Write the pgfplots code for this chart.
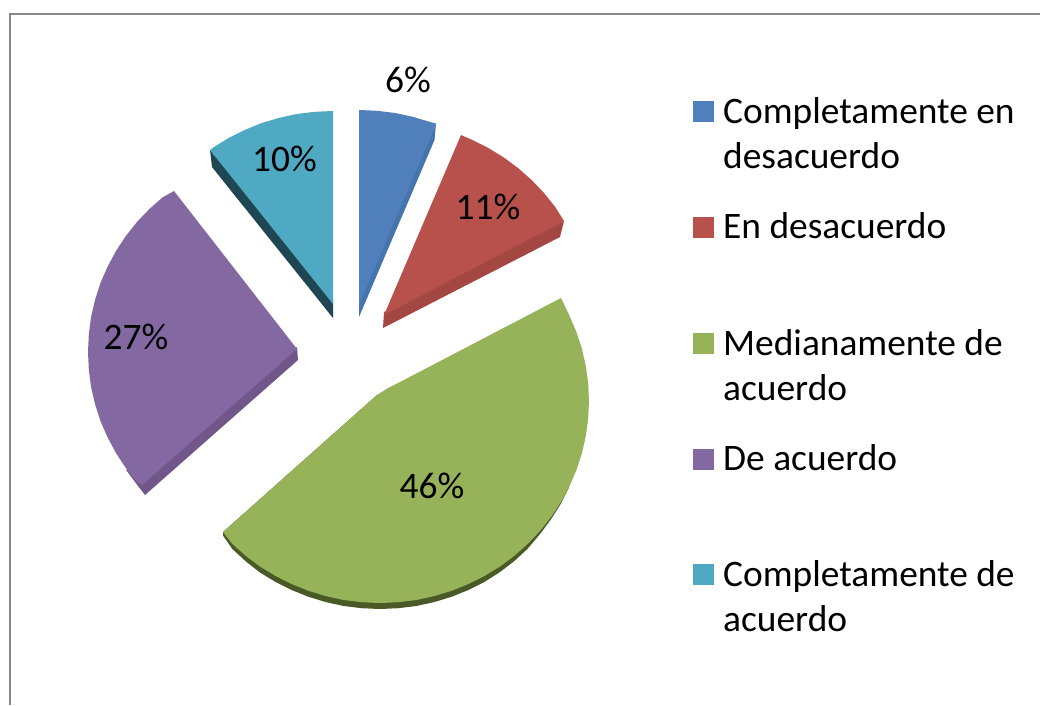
\documentclass[border=0pt]{standalone}
\usepackage{fontspec}
\setmainfont{Carlito}
\usepackage{pgfplots}
\pgfplotsset{compat=1.18}
\definecolor{cBlue}{HTML}{4F80BB}
\definecolor{cBlueS}{HTML}{4674AC}
\definecolor{cRed}{HTML}{B8514C}
\definecolor{cRedS}{HTML}{A44642}
\definecolor{cGreen}{HTML}{97B35A}
\definecolor{cGreenS}{HTML}{4A5A26}
\definecolor{cPurple}{HTML}{8368A1}
\definecolor{cPurpleS}{HTML}{705689}
\definecolor{cTeal}{HTML}{4FA9C3}
\definecolor{cTealS}{HTML}{1F4653}
\definecolor{cFrame}{HTML}{868686}
\newcommand{\lab}[1]{\fontsize{37.4}{37.4}\selectfont #1}
\begin{document}
\begin{tikzpicture}
\begin{axis}[
  scale only axis, width=1040pt, height=705pt,
  xmin=0, xmax=1040, ymin=0, ymax=705, y dir=reverse,
  ticks=none, axis line style={draw=none}, clip=true,
  every axis plot/.append style={draw=none, mark=none, line width=0pt},
]
% frame
\addplot[draw=cFrame, line width=2pt] coordinates {(10,705) (10,13.5) (1040,13.5)};
% blue
\addplot[fill=cBlueS] coordinates {(436,123.5) (434.5,140) (359,317) (359,300)} -- cycle;
\addplot[fill=cBlue] coordinates {(359,110) (377.2,110.8) (395.3,113) (413.1,116.9) (430.5,122.1) (436,123.5) (359,305)} -- cycle;
% red
\addplot[fill=cRedS] coordinates {(564,221) (560,237) (383,328) (384,312)} -- cycle;
\addplot[fill=cRed] coordinates {(461,135) (472.4,140) (488.5,148.1) (504,157.6) (518.4,168.3) (531.8,180.2) (544.1,193.1) (555.2,207) (564,221) (384,315)} -- cycle;
% green
\addplot[fill=cGreenS] coordinates {(569.4,486.4) (561,503.5) (551.2,519) (540.1,534) (527.8,548.5) (514.4,561) (500,572) (484.5,581.9) (468.4,590) (451.5,596.8) (434.1,602.1) (416.3,606) (398.2,608.2) (380,609) (361.8,608.2) (343.7,606) (325.9,602.1) (308.5,596.8) (291.6,590) (275.5,581.9) (260,572.5) (245.6,561.2) (232.2,548.8) (223,535.5) (223,532) (377,395)} -- cycle;
\addplot[fill=cGreen] coordinates {(561,298) (569.4,315.6) (576.4,331.9) (581.9,348.7) (585.8,365.9) (588.2,383.4) (589,401) (588.2,418.6) (585.8,436.1) (581.9,453.3) (576.4,470.1) (569.4,486.4) (561,502) (551.2,516.9) (540.1,530.8) (527.8,543.8) (514.4,555.7) (500,566.5) (484.5,575.9) (468.4,584) (451.5,590.8) (434.1,596.1) (416.3,600) (398.2,602.2) (380,603) (361.8,602.2) (343.7,600) (325.9,596.1) (308.5,590.8) (291.6,584) (275.5,575.9) (260,566.5) (245.6,555.7) (232.2,543.8) (223,532) (377,395) (388,388) (400,382)} -- cycle;
% purple
\addplot[fill=cPurpleS] coordinates {(297,347) (298,360) (145,495) (136.9,484.5) (125.8,469.5) (142,470)} -- cycle;
\addplot[fill=cPurple] coordinates {(174,191) (162.6,197.3) (149.2,209.2) (136.9,222.1) (125.8,236.1) (116,251) (107.6,266.6) (100.5,282.9) (95.1,299.7) (91.1,316.9) (88.8,334.4) (88,352) (88.8,369.6) (91.1,387.1) (95.1,404.3) (100.5,421.1) (107.6,437.4) (116,453) (125.8,467.9) (136.9,481.9) (142,485) (297,349)} -- cycle;
% teal
\addplot[fill=cTealS] coordinates {(210,150) (212,167) (333,318) (333,300)} -- cycle;
\addplot[fill=cTeal] coordinates {(333,111) (314.8,111.8) (296.7,114) (278.9,117.9) (261.5,123.1) (244.6,130) (228.5,138.1) (213,147.6) (210,150) (333,304)} -- cycle;
% legend swatches
\addplot[fill=cBlue] coordinates {(693,101) (714,101) (714,122) (693,122)} -- cycle;
\addplot[fill=cRed] coordinates {(693,217) (714,217) (714,238) (693,238)} -- cycle;
\addplot[fill=cGreen] coordinates {(693,333) (714,333) (714,354) (693,354)} -- cycle;
\addplot[fill=cPurple] coordinates {(693,449) (714,449) (714,470) (693,470)} -- cycle;
\addplot[fill=cTeal] coordinates {(693,564) (714,564) (714,585) (693,585)} -- cycle;
% data labels
\node[inner sep=0pt] at (axis cs:408,80) {\lab{6\%}};
\node[inner sep=0pt] at (axis cs:284.5,159) {\lab{10\%}};
\node[inner sep=0pt] at (axis cs:488,207) {\lab{11\%}};
\node[inner sep=0pt] at (axis cs:136,337) {\lab{27\%}};
\node[inner sep=0pt] at (axis cs:432,486) {\lab{46\%}};
% legend text
\node[anchor=base west, inner sep=0pt] at (axis cs:723,123) {\lab{Completamente en}};
\node[anchor=base west, inner sep=0pt] at (axis cs:723,168) {\lab{desacuerdo}};
\node[anchor=base west, inner sep=0pt] at (axis cs:723,238) {\lab{En desacuerdo}};
\node[anchor=base west, inner sep=0pt] at (axis cs:723,355) {\lab{Medianamente de}};
\node[anchor=base west, inner sep=0pt] at (axis cs:723,400) {\lab{acuerdo}};
\node[anchor=base west, inner sep=0pt] at (axis cs:723,470) {\lab{De acuerdo}};
\node[anchor=base west, inner sep=0pt] at (axis cs:723,586) {\lab{Completamente de}};
\node[anchor=base west, inner sep=0pt] at (axis cs:723,631) {\lab{acuerdo}};
\end{axis}
\end{tikzpicture}
\end{document}
